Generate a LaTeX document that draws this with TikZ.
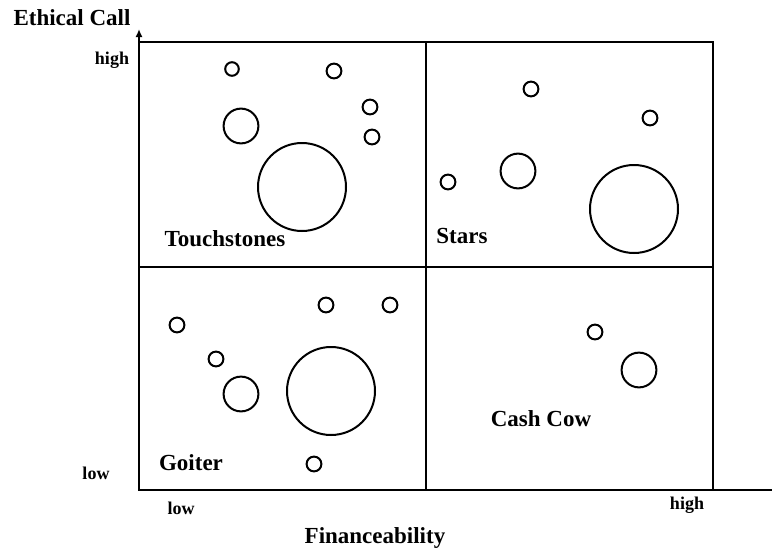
\documentclass[tikz,border=0pt]{standalone}
\usepackage{fontspec}
\setmainfont{Liberation Serif}
\usetikzlibrary{arrows.meta}
\begin{document}
\begin{tikzpicture}[x=0.5pt,y=-0.5pt,
  bubble/.style={line width=1pt},
  quad/.style={font=\fontsize{11.5}{13}\selectfont\bfseries},
  tick/.style={font=\fontsize{9}{11}\selectfont\bfseries}]
\useasboundingbox (0,0) rectangle (772,552);
% axes
\coordinate (origin) at (139,490);
\coordinate (ytip) at (139,29);
\coordinate (xend) at (772,490);
\draw[line width=1pt, -{Latex[length=4pt,width=3.5pt]}] (origin) -- (ytip);
\draw[line width=1pt] (origin) -- (xend);
% frame and quadrants
\draw[line width=0.6pt] (139,42) rectangle (713,490);
\draw[line width=0.6pt] (426,42) -- (426,490);
\draw[line width=0.6pt] (139,267) -- (713,267);
% labels
\node[quad] (ethical) at (72,18) {Ethical Call};
\node[quad] (fin) at (375,538) {Financeability};
\node[tick] (yhigh) at (112,60) {high};
\node[tick] (ylow) at (96,473) {low};
\node[tick] (xlow) at (181,508) {low};
\node[tick] (xhigh) at (687,505) {high};
\node[quad] (touch) at (225,239) {Touchstones};
\node[quad] (stars) at (462,236) {Stars};
\node[quad] (goiter) at (191,463) {Goiter};
\node[quad] (cash) at (541,419) {Cash Cow};
% Touchstones
\draw[bubble] (232,69) circle (3.4pt);
\draw[bubble] (334,71) circle (3.7pt);
\draw[bubble] (370,107) circle (3.7pt);
\draw[bubble] (372,137) circle (3.7pt);
\draw[bubble] (241,126) circle (8.7pt);
\draw[bubble] (302,187) circle (22pt);
% Stars
\draw[bubble] (531,89) circle (3.7pt);
\draw[bubble] (650,118) circle (3.7pt);
\draw[bubble] (448,182) circle (3.7pt);
\draw[bubble] (518,171) circle (8.7pt);
\draw[bubble] (634,209) circle (22pt);
% Goiter
\draw[bubble] (177,325) circle (3.7pt);
\draw[bubble] (326,305) circle (3.7pt);
\draw[bubble] (390,305) circle (3.7pt);
\draw[bubble] (216,359) circle (3.7pt);
\draw[bubble] (241,394) circle (8.7pt);
\draw[bubble] (331,391) circle (22pt);
\draw[bubble] (314,464) circle (3.7pt);
% Cash Cow
\draw[bubble] (595,332) circle (3.7pt);
\draw[bubble] (639,370) circle (8.7pt);
\end{tikzpicture}
\end{document}
